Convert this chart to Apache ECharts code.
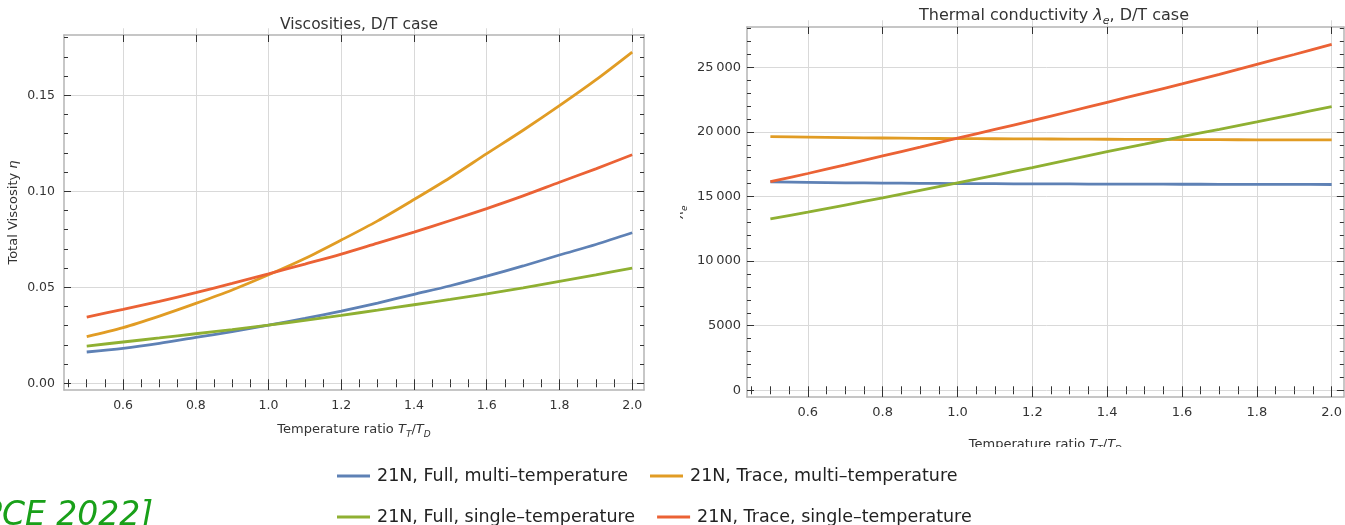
<!DOCTYPE html>
<html><head><meta charset="utf-8">
<script src="https://cdn.jsdelivr.net/npm/echarts@6/dist/echarts.min.js"></script>
<style>html,body{margin:0;padding:0;background:#fff}#c{width:1345px;height:525px}</style>
</head><body><div id="c"></div>
<script>
// ---- data ----
const tempRatio = [0.5, 0.6, 0.7, 0.8, 0.9, 1.0, 1.1, 1.2, 1.3, 1.4, 1.5, 1.6, 1.7, 1.8, 1.9, 2.0];
const viscFullMulti   = [0.0163, 0.0182, 0.0208, 0.0239, 0.0269, 0.0303, 0.0338, 0.0376, 0.0418, 0.0463, 0.0508, 0.0558, 0.0611, 0.0668, 0.0723, 0.0784];
const viscTraceMulti  = [0.0243, 0.0290, 0.0350, 0.0416, 0.0486, 0.0565, 0.0650, 0.0746, 0.0846, 0.0957, 0.1072, 0.1196, 0.1318, 0.1446, 0.1580, 0.1725];
const viscFullSingle  = [0.0194, 0.0215, 0.0236, 0.0258, 0.0280, 0.0303, 0.0328, 0.0354, 0.0381, 0.0409, 0.0437, 0.0466, 0.0497, 0.0531, 0.0565, 0.0600];
const viscTraceSingle = [0.0345, 0.0385, 0.0427, 0.0472, 0.0520, 0.0570, 0.0621, 0.0673, 0.0730, 0.0787, 0.0848, 0.0910, 0.0976, 0.1047, 0.1117, 0.1190];
const lamFullMulti   = [16130, 16090, 16060, 16040, 16020, 16000, 15990, 15980, 15970, 15960, 15955, 15950, 15945, 15940, 15935, 15930];
const lamTraceMulti  = [19640, 19600, 19560, 19530, 19500, 19480, 19470, 19460, 19445, 19430, 19420, 19410, 19400, 19390, 19385, 19380];
const lamFullSingle  = [13270, 13790, 14340, 14900, 15470, 16050, 16640, 17240, 17860, 18480, 19060, 19640, 20200, 20770, 21360, 21960];
const lamTraceSingle = [16160, 16780, 17450, 18140, 18820, 19510, 20190, 20870, 21580, 22290, 23000, 23710, 24460, 25230, 25990, 26770];
const seriesNames = ['21N, Full, multi–temperature', '21N, Trace, multi–temperature',
                     '21N, Full, single–temperature', '21N, Trace, single–temperature'];
const xTickLabels = [0.6, 0.8, 1.0, 1.2, 1.4, 1.6, 1.8, 2.0];
const viscTickLabels = [0, 0.05, 0.10, 0.15];
const lamTickLabels = [0, 5000, 10000, 15000, 20000, 25000];

// ---- helpers ----
function steps(a, b, s) { const o = []; for (let v = a; v <= b + 1e-9; v += s) o.push(Math.round(v * 1e6) / 1e6); return o; }
const xMinorTicks = steps(0.45, 2.0, 0.05);
const viscMinorTicks = steps(0, 0.18, 0.01);
const lamMinorTicks = steps(0, 28000, 1000);

const COLORS = ['#5E81B5', '#E19C24', '#8FB032', '#EB6235'];
const FRAME = '#b4b4b4', TICK = '#333', GRIDC = '#d9d9d9';
const X_MIN = 0.4375, X_MAX = 2.0325;
const grids = [
  { left: 64, top: 35, width: 580, height: 355 },
  { left: 747, top: 27, width: 603, height: 370 }
];
const yRanges = [[-0.0035, 0.1814], [-519, 28120]];

function ax(o) {
  return Object.assign({
    type: 'value', axisLine: { show: false }, splitLine: { show: false },
    axisLabel: { show: false }, axisTick: { show: false }, minorTick: { show: false }, z: 1
  }, o);
}
function tk(values, len, color) {
  return { show: true, inside: true, length: len, customValues: values, lineStyle: { color: color || TICK, width: 1 } };
}
const frameLine = { show: true, onZero: false, lineStyle: { color: FRAME, width: 1.5 } };

const subRich = (fs) => ({
  i: { fontStyle: 'italic', fontSize: fs, lineHeight: fs + 6, fontFamily: 'DejaVu Sans', color: '#333' },
  s: { fontStyle: 'italic', fontSize: Math.round(fs * 0.68), verticalAlign: 'bottom', lineHeight: Math.round(fs * 0.68) + 2, fontFamily: 'DejaVu Sans', color: '#333' }
});

function xAxesFor(gi, labelFs, margin, nameGap) {
  const g = grids[gi];
  const base = { gridIndex: gi, min: X_MIN, max: X_MAX };
  return [
    ax(Object.assign({}, base, {
      position: 'bottom', axisLine: frameLine, axisTick: tk(xTickLabels, 7),
      axisLabel: { show: true, customValues: xTickLabels, formatter: v => v.toFixed(1), margin: margin,
                   fontSize: labelFs, color: '#333', fontFamily: 'DejaVu Sans' },
      name: 'Temperature ratio {i|T}{s|T}/{i|T}{s|D}', nameLocation: 'middle', nameGap: nameGap,
      nameTextStyle: { fontSize: 13, color: '#333', fontFamily: 'DejaVu Sans', lineHeight: 19, rich: subRich(13) }
    })),
    ax(Object.assign({}, base, { position: 'bottom', axisTick: tk(xMinorTicks, 4) })),
    ax(Object.assign({}, base, { position: 'bottom', axisTick: tk(xTickLabels, g.height, GRIDC), z: 0 })),
    ax(Object.assign({}, base, { position: 'top', axisLine: frameLine, axisTick: tk(xTickLabels, 7) })),
    ax(Object.assign({}, base, { position: 'top', axisTick: tk(xMinorTicks, 4) }))
  ];
}
function yAxesFor(gi, major, minor, fmt, labelFs, margin, name, nameGap, nameFs) {
  const g = grids[gi];
  const base = { gridIndex: gi, min: yRanges[gi][0], max: yRanges[gi][1] };
  return [
    ax(Object.assign({}, base, {
      position: 'left', axisLine: frameLine, axisTick: tk(major, 7),
      axisLabel: { show: true, customValues: major, formatter: fmt, margin: margin, fontSize: labelFs,
                   color: '#333', fontFamily: 'DejaVu Sans' },
      name: name, nameLocation: 'middle', nameGap: nameGap,
      nameTextStyle: { fontSize: nameFs, color: '#333', fontFamily: 'DejaVu Sans', lineHeight: nameFs + 6, rich: subRich(nameFs) }
    })),
    ax(Object.assign({}, base, { position: 'left', axisTick: tk(minor, 4) })),
    ax(Object.assign({}, base, { position: 'left', axisTick: tk(major, g.width, GRIDC), z: 0 })),
    ax(Object.assign({}, base, { position: 'right', axisLine: frameLine, axisTick: tk(major, 7) })),
    ax(Object.assign({}, base, { position: 'right', axisTick: tk(minor, 4) }))
  ];
}
const lamFmt = v => v >= 10000 ? String(v).replace(/(\d{2})(\d{3})$/, '$1\u2009$2') : String(v);

const vData = [viscFullMulti, viscTraceMulti, viscFullSingle, viscTraceSingle];
const lData = [lamFullMulti, lamTraceMulti, lamFullSingle, lamTraceSingle];
function mkSeries(arrs, axisIdx) {
  return arrs.map((arr, i) => ({
    type: 'line', name: seriesNames[i], xAxisIndex: axisIdx, yAxisIndex: axisIdx,
    data: tempRatio.map((x, j) => [x, arr[j]]),
    smooth: 0.3, showSymbol: false, z: 3,
    lineStyle: { width: 2.8, color: COLORS[i] }, itemStyle: { color: COLORS[i] }
  }));
}
const legendText = { fontSize: 17.5, color: '#222', fontFamily: 'DejaVu Sans', padding: [0, 0, 0, 2] };

const option = {
  animation: false,
  backgroundColor: '#ffffff',
  textStyle: { fontFamily: 'DejaVu Sans' },
  title: [
    { text: 'Viscosities, D/T case', left: 354, top: 12, textAlign: 'center',
      textStyle: { fontSize: 15.5, fontWeight: 'normal', color: '#333', fontFamily: 'DejaVu Sans' } },
    { text: 'Thermal conductivity {i|λ}{s|e}, D/T case', left: 1049, top: 0, textAlign: 'center',
      textStyle: { fontSize: 16, fontWeight: 'normal', color: '#333', fontFamily: 'DejaVu Sans', lineHeight: 20, rich: subRich(16) } }
  ],
  grid: grids.map(g => Object.assign({ show: false }, g)),
  xAxis: [].concat(xAxesFor(0, 12.5, 9, 30), xAxesFor(1, 13, 9, 38)),
  yAxis: [].concat(
    yAxesFor(0, viscTickLabels, viscMinorTicks, v => v.toFixed(2), 12.5, 9, 'Total Viscosity {i|η}', 41, 13),
    yAxesFor(1, lamTickLabels, lamMinorTicks, lamFmt, 13, 6, '{i|λ}{s|e}', 58, 13)
  ),
  legend: [
    { data: [seriesNames[0], seriesNames[1]], left: 332, top: 462, icon: 'rect', itemWidth: 33, itemHeight: 3,
      itemGap: 22, textStyle: legendText, selectedMode: false },
    { data: [seriesNames[2], seriesNames[3]], left: 332, top: 503, icon: 'rect', itemWidth: 33, itemHeight: 3,
      itemGap: 22, textStyle: legendText, selectedMode: false }
  ],
  graphic: [
    { type: 'rect', shape: { x: 650, y: 150, width: 30, height: 130 }, style: { fill: '#fff' }, z: 100 },
    { type: 'rect', shape: { x: 660, y: 447, width: 685, height: 10 }, style: { fill: '#fff' }, z: 100 },
    { type: 'text', x: -18, y: 516, z: 100,
      style: { text: 'PCE 2022]', font: 'italic 33px "DejaVu Sans"', fill: '#19a019', verticalAlign: 'middle' } }
  ],
  series: [].concat(mkSeries(vData, 0), mkSeries(lData, 5))
};
const chart = echarts.init(document.getElementById('c'));
chart.setOption(option);
</script>
</body></html>
